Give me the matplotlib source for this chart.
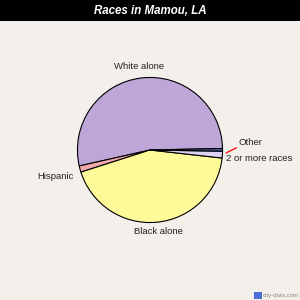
import matplotlib.pyplot as plt
from matplotlib.patches import Rectangle

plt.rcParams['font.family'] = ['Liberation Sans', 'DejaVu Sans']

races = ['White alone', 'Hispanic', 'Black alone', '2 or more races', 'Other']
shares = [53.2, 1.4, 43.3, 1.5, 0.6]
colors = ['#bfa6d9', '#f2a9ab', '#fffa99', '#dcd4f2', '#4a5aa8']

# label positions (data coords, pie radius = 1)
label_pos = {
    'White alone': (-0.15, 1.15),
    'Hispanic': (-1.31, -0.37),
    'Black alone': (0.12, -1.13),
    '2 or more races': (1.5, -0.12),
    'Other': (1.39, 0.11),
}

bg = '#f3f0ec'
fig = plt.figure(figsize=(3, 3), dpi=100, facecolor=bg)

# title bar
fig.patches.append(Rectangle((0, 1 - 21 / 300), 1, 21 / 300, transform=fig.transFigure,
                             facecolor='black', edgecolor='none', zorder=0))
fig.text(0.5, 1 - 10.5 / 300, 'Races in Mamou, LA', color='white', fontsize=8.3,
         fontweight='bold', fontstyle='italic', ha='center', va='center')

r = 74 / 300
ax = fig.add_axes([0.5 - r, 0.5 - r, 2 * r, 2 * r])
ax.set_facecolor(bg)
ax.pie(shares, colors=colors, startangle=1.2, counterclock=True,
       wedgeprops=dict(edgecolor='black', linewidth=0.8))
ax.set_xlim(-1.02, 1.02)
ax.set_ylim(-1.02, 1.02)
ax.set_aspect('equal')
ax.axis('off')

for name in races:
    x, y = label_pos[name]
    ax.text(x, y, name, fontsize=6.8, color='#222222', ha='center', va='center', clip_on=False)

# leader line for Other
ax.plot([1.05, 1.19], [-0.04, 0.03], color='red', linewidth=0.9, clip_on=False)

# watermark
fig.patches.append(Rectangle((254 / 300, 0.005), 8 / 300, 0.022, transform=fig.transFigure,
                             facecolor='#4a6fd0', edgecolor='none'))
fig.text(0.997, 0.016, 'city-data.com', fontsize=4.3, color='#888888', ha='right', va='center')

fig.savefig('out.png', dpi=100, facecolor=bg)
